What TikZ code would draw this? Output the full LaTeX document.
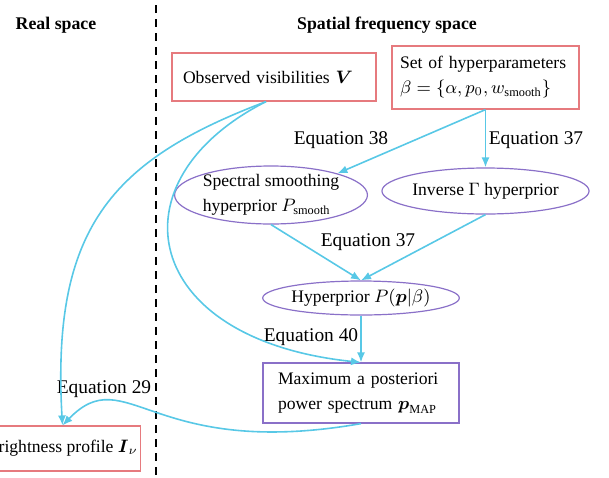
\documentclass[tikz,border=0pt]{standalone}
\usepackage{amsmath}
\usepackage{fontspec}
\setmainfont{Liberation Serif}
\usetikzlibrary{shapes.geometric, arrows.meta}
\definecolor{boxred}{RGB}{230,122,126}
\definecolor{priorpurple}{RGB}{138,112,200}
\definecolor{linkcyan}{RGB}{88,200,230}
\tikzstyle{databox} = [rectangle, draw=boxred, line width=0.6pt, inner xsep=5.5pt, inner ysep=0pt, align=left]
\tikzstyle{resultbox} = [rectangle, draw=priorpurple, line width=0.6pt, inner xsep=7.5pt, inner ysep=0pt, align=left]
\tikzstyle{prior} = [ellipse, draw=priorpurple, line width=0.6pt, inner sep=0pt, align=left]
\tikzstyle{arrow} = [draw=linkcyan, line width=0.8pt, -{Latex[length=5pt,width=4pt]}]
\tikzstyle{header} = [font=\fontsize{8.9}{11}\selectfont\bfseries]
\tikzstyle{eqlabel} = [font=\fontsize{9.7}{11.5}\selectfont]
\begin{document}
\begin{tikzpicture}[x=0.5pt, y=-0.5pt, font=\fontsize{8.8}{12.5}\selectfont]
    \useasboundingbox (0,0) rectangle (609,477);
    \clip (0,0) rectangle (609,477);

    % Headers and divider
    \node[header] (realHead) at (56,25) {Real space};
    \node[header] (freqHead) at (387,25) {Spatial frequency space};
    \coordinate (divTop) at (156,5);
    \coordinate (divBot) at (156,477);
    \draw[dash pattern=on 4pt off 3pt, line width=0.9pt] (divTop) -- (divBot);

    % Nodes
    \node[databox, text width=91pt, minimum height=24pt] (obs) at (274,77) {Observed visibilities $\boldsymbol{V}$};
    \node[databox, inner xsep=4pt, text width=85.5pt, minimum height=31.5pt] (hyper) at (485.5,77.5) {Set of hyperparameters\\$\beta=\{\alpha,p_0,w_{\mathrm{smooth}}\}$};
    \node[prior, minimum width=96pt, minimum height=27.5pt] (spectral) at (271,195) {Spectral smoothing\\hyperprior $P_{\mathrm{smooth}}$};
    \node[prior, minimum width=99.5pt, minimum height=23pt] (inverse) at (485.5,191) {Inverse $\Gamma$ hyperprior};
    \node[prior, minimum width=94.5pt, minimum height=17pt] (hyperprior) at (361,298) {Hyperprior $P(\boldsymbol{p}|\beta)$};
    \node[resultbox, text width=83pt, minimum height=30pt] (map) at (361,393) {Maximum a posteriori\\power spectrum $\boldsymbol{p}_{\mathrm{MAP}}$};
    \node[databox, inner xsep=1.2pt, minimum height=22.5pt, anchor=east] (bright) at (141,448.5) {Brightness profile $\boldsymbol{I}_\nu$};

    % Labels
    \node[eqlabel] (eqSmooth) at (341,140) {Equation 38};
    \node[eqlabel] (eqGamma) at (536,140) {Equation 37};
    \node[eqlabel] (eqPrior) at (368,242) {Equation 37};
    \node[eqlabel] (eqMap) at (311,337) {Equation 40};
    \node[eqlabel] (eqImage) at (104,389) {Equation 29};

    % Arrows
    \draw[arrow] (hyper.south) -- (spectral.18);
    \draw[arrow] (hyper.south) -- (inverse.north);
    \draw[arrow] (spectral.south) -- (hyperprior.north);
    \draw[arrow] (inverse.south) -- (hyperprior.north);
    \draw[arrow] (hyperprior.south) -- (map.north);
    \draw[arrow] (obs.252) .. controls +(-156,59) and +(-11,-196) .. (bright.north);
    \draw[arrow] (obs.252) .. controls +(-156,79) and +(-221,-23) .. (map.north);
    \draw[arrow] (map.south) .. controls +(-211,37) and +(64,-66) .. (bright.north);

\end{tikzpicture}
\end{document}
